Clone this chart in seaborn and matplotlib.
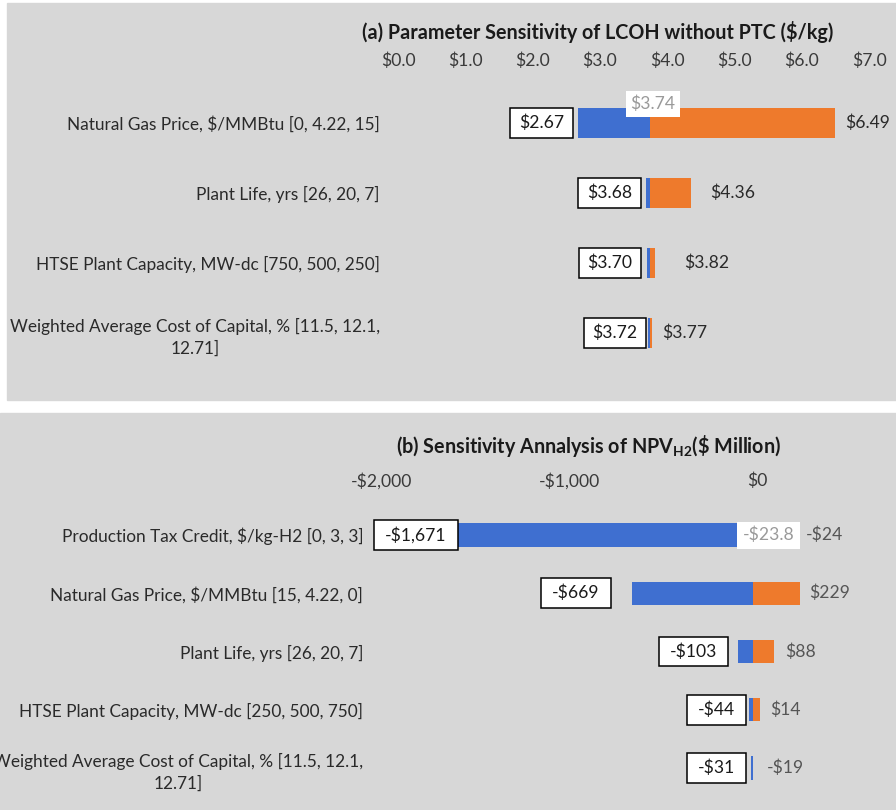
import matplotlib
matplotlib.use("Agg")
import matplotlib.pyplot as plt
from matplotlib.patches import Rectangle
from matplotlib.path import Path
import seaborn as sns

# ---- data -------------------------------------------------------------
cats_a = [
    "Natural Gas Price, $/MMBtu [0, 4.22, 15]",
    "Plant Life, yrs [26, 20, 7]",
    "HTSE Plant Capacity, MW-dc [750, 500, 250]",
    "Weighted Average Cost of Capital, % [11.5, 12.1,\n12.71]",
]
low_a = [2.67, 3.68, 3.70, 3.72]
high_a = [6.49, 4.36, 3.82, 3.77]
base_a = 3.74
ticks_a = [0, 1, 2, 3, 4, 5, 6, 7]
ticklabels_a = ["$0.0", "$1.0", "$2.0", "$3.0", "$4.0", "$5.0", "$6.0", "$7.0"]

cats_b = [
    "Production Tax Credit, $/kg-H2 [0, 3, 3]",
    "Natural Gas Price, $/MMBtu [15, 4.22, 0]",
    "Plant Life, yrs [26, 20, 7]",
    "HTSE Plant Capacity, MW-dc [250, 500, 750]",
    "Weighted Average Cost of Capital, % [11.5, 12.1,\n12.71]",
]
low_b = [-1671, -669, -103, -44, -31]
high_b = [-24, 229, 88, 14, -19]
base_b = -23.8
ticks_b = [-2000, -1000, 0]
ticklabels_b = ["-$2,000", "-$1,000", "$0"]

title_a = "(a) Parameter Sensitivity of LCOH without PTC ($/kg)"
title_b = r"(b) Sensitivity Annalysis of NPV$_{\mathrm{H2}}$(\$ Million)"

# ---- styling ----------------------------------------------------------
W, H = 896, 810
BLUE = "#3F6FD0"
ORANGE = "#EE7A2C"
PANEL = "#D7D7D7"
FS_CAT = 12.4
FS_TICK = 12.6
FS_VAL = 12.6
FS_TITLE = 14.2

sns.set_theme(style="white")
plt.rcParams["font.family"] = ["Lato", "DejaVu Sans"]
plt.rcParams["mathtext.fontset"] = "custom"
plt.rcParams["mathtext.rm"] = "Lato:bold"
plt.rcParams["mathtext.bf"] = "Lato:bold"

# label placement tweaks (pixels)
low_gap_a = [5, 5, 6, 2]
high_gap_a = [10, 19, 29, 10]
low_gap_b = [-14, 21, 10, 3, 5]
high_gap_b = [53, 9, 12, 11, 13]


def framed_box(padx, pady):
    def style(x0, y0, width, height, mutation_size):
        px, py = padx * mutation_size, pady * mutation_size
        x1, y1 = x0 + width + px, y0 + height + py
        xa, ya = x0 - px, y0 - py
        return Path([(xa, ya), (x1, ya), (x1, y1), (xa, y1), (xa, ya)],
                    closed=True)
    return style


def px_axes(fig, left, top, right, bottom):
    return fig.add_axes([left / W, 1 - bottom / H, (right - left) / W,
                         (bottom - top) / H])


def tornado(ax, cats, low, high, base, xlim, ylim, bar_h):
    blue_w = [base - v for v in low]
    orange_w = [v - base for v in high]
    n0 = len(ax.patches)
    sns.barplot(x=blue_w, y=cats, order=cats, orient="h", color=BLUE,
                saturation=1, width=bar_h, errorbar=None, linewidth=0, ax=ax)
    for p, v in zip(ax.patches[n0:], low):
        p.set_x(v)
    n1 = len(ax.patches)
    sns.barplot(x=orange_w, y=cats, order=cats, orient="h", color=ORANGE,
                saturation=1, width=bar_h, errorbar=None, linewidth=0, ax=ax)
    for p in ax.patches[n1:]:
        p.set_x(base)
    ax.set_xlim(*xlim)
    ax.set_ylim(*ylim)
    ax.set_xlabel("")
    ax.set_ylabel("")
    ax.set_facecolor("none")
    for s in ax.spines.values():
        s.set_visible(False)
    ax.xaxis.tick_top()
    ax.tick_params(axis="both", length=0)
    for t in ax.get_yticklabels():
        t.set_multialignment("center")
        t.set_linespacing(1.45)


fig = plt.figure(figsize=(W / 100, H / 100), dpi=100)
fig.patches.append(Rectangle((7 / W, 1 - 400 / H), 1 - 7 / W, 397 / H,
                             transform=fig.transFigure, color=PANEL, zorder=-10))
fig.patches.append(Rectangle((0, 0), 1, 397 / H,
                             transform=fig.transFigure, color=PANEL, zorder=-10))

px_per_pt = 100 / 72

# ---- panel (a) --------------------------------------------------------
ax_a = px_axes(fig, 398, 72, 398 + 7.2 * 67.3, 372)
tornado(ax_a, cats_a, low_a, high_a, base_a, (0, 7.2),
        (3 + 39 / 70, -51 / 70), 0.43)
ax_a.set_xticks(ticks_a)
ax_a.set_xticklabels(ticklabels_a, fontsize=FS_TICK, color="#3a3a3a")
ax_a.tick_params(axis="x", pad=2)
ax_a.tick_params(axis="y", pad=13, labelsize=FS_CAT, labelcolor="#2a2a2a")

PADX_A = 0.5
box_a = dict(boxstyle=framed_box(PADX_A, 0.38), fc="white", ec="black", lw=1.1)
for i, (lo, hi) in enumerate(zip(low_a, high_a)):
    ax_a.annotate(f"${lo:.2f}", xy=(lo, i),
                  xytext=(-low_gap_a[i] - PADX_A * FS_VAL * px_per_pt, 0),
                  textcoords="offset pixels", ha="right", va="center",
                  fontsize=FS_VAL, color="#1a1a1a", bbox=box_a,
                  annotation_clip=False)
    ax_a.annotate(f"${hi:.2f}", xy=(max(hi, base_a), i),
                  xytext=(high_gap_a[i], 0), textcoords="offset pixels",
                  ha="left", va="center", fontsize=FS_VAL, color="#2a2a2a",
                  annotation_clip=False)
ax_a.annotate(f"${base_a:.2f}", xy=(base_a, 0), xytext=(3, 19),
              textcoords="offset pixels", ha="center", va="center",
              fontsize=FS_VAL, color="#9a9a9a",
              bbox=dict(boxstyle="square,pad=0.25", fc="white", ec="none"),
              annotation_clip=False)
fig.text(598 / W, 1 - 32 / H, title_a, ha="center", va="center",
         fontsize=FS_TITLE, fontweight="bold", color="#1a1a1a")

# ---- panel (b) --------------------------------------------------------
ax_b = px_axes(fig, 382, 492, 382 + 2600 * 0.1875, 800)
tornado(ax_b, cats_b, low_b, high_b, base_b, (-2000, 600),
        (4 + 32 / 58.25, -43 / 58.25), 0.4)
ax_b.set_xticks(ticks_b)
ax_b.set_xticklabels(ticklabels_b, fontsize=FS_TICK, color="#3a3a3a")
ax_b.tick_params(axis="x", pad=2)
ax_b.tick_params(axis="y", pad=13.5, labelsize=FS_CAT, labelcolor="#2a2a2a")


def money(v, dec=0):
    sign = "-" if v < 0 else ""
    return f"{sign}${abs(v):,.{dec}f}"


PADX_B = 0.62
box_b = dict(boxstyle=framed_box(PADX_B, 0.38), fc="white", ec="black", lw=1.1)
for i, (lo, hi) in enumerate(zip(low_b, high_b)):
    ax_b.annotate(money(lo), xy=(lo, i),
                  xytext=(-low_gap_b[i] - PADX_B * FS_VAL * px_per_pt, 0),
                  textcoords="offset pixels", ha="right", va="center",
                  fontsize=FS_VAL, color="#1a1a1a", bbox=box_b,
                  annotation_clip=False)
    ax_b.annotate(money(hi), xy=(max(hi, base_b), i),
                  xytext=(high_gap_b[i], 0), textcoords="offset pixels",
                  ha="left", va="center", fontsize=FS_VAL, color="#555555",
                  annotation_clip=False)
ax_b.annotate(money(base_b, 1), xy=(base_b, 0), xytext=(16, 0),
              textcoords="offset pixels", ha="center", va="center",
              fontsize=FS_VAL, color="#9a9a9a",
              bbox=dict(boxstyle="square,pad=0.3", fc="white", ec="none"),
              annotation_clip=False)
fig.text(589 / W, 1 - 446 / H, title_b, ha="center", va="center",
         fontsize=FS_TITLE, fontweight="bold", color="#1a1a1a")

fig.savefig("out.png", dpi=100, facecolor="white")
